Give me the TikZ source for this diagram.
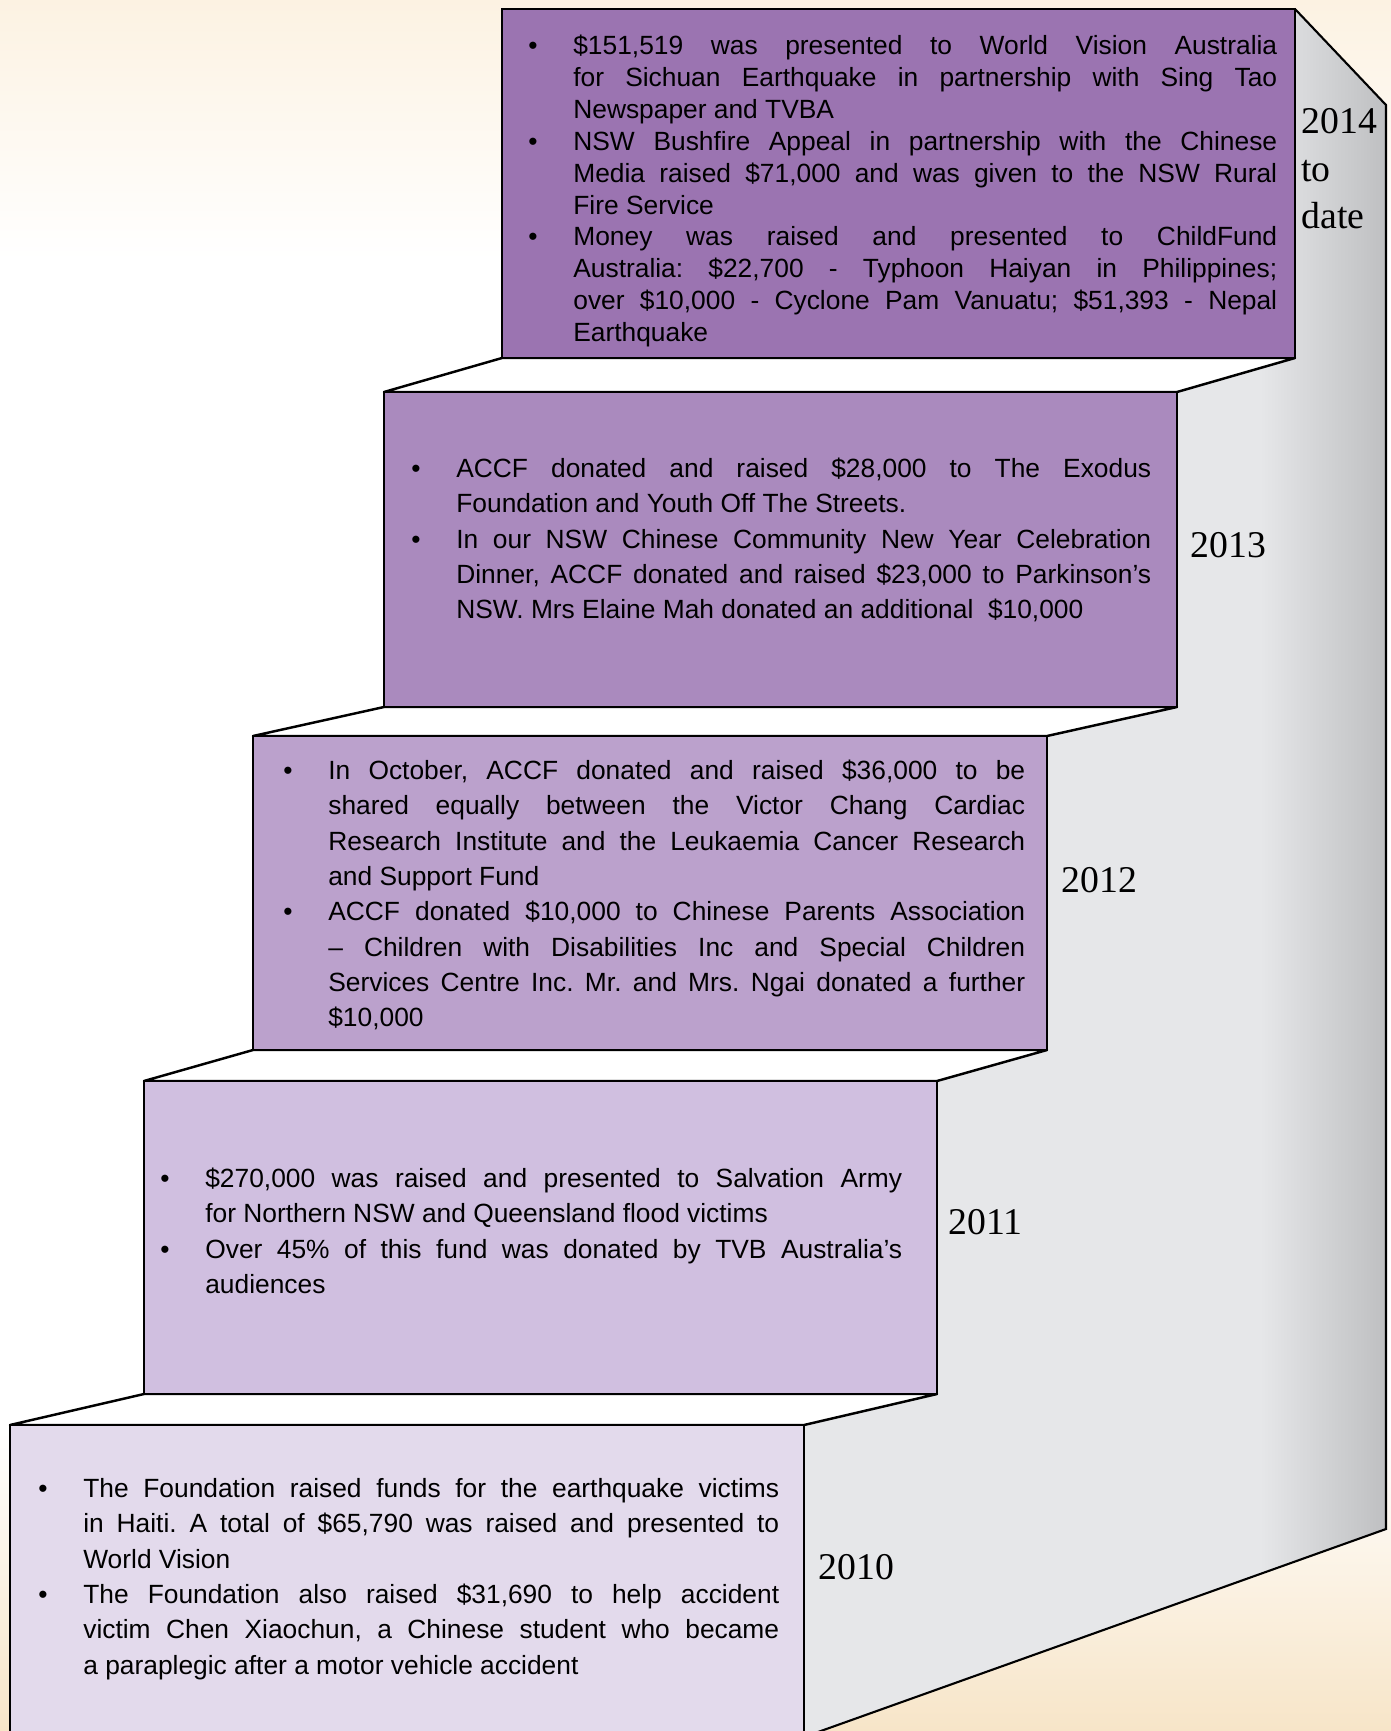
\documentclass[tikz,border=0pt]{standalone}
\usepackage{fontspec}
\setmainfont{Liberation Sans}
\newfontfamily\yearfont{Liberation Serif}

\definecolor{boxA}{RGB}{155,116,177}
\definecolor{boxB}{RGB}{170,138,190}
\definecolor{boxC}{RGB}{187,161,204}
\definecolor{boxD}{RGB}{208,191,224}
\definecolor{boxE}{RGB}{227,218,236}
\definecolor{sidelight}{RGB}{230,231,233}
\definecolor{sidedark}{RGB}{190,191,193}
\definecolor{bgtop}{RGB}{252,242,226}
\definecolor{bgbot}{RGB}{247,229,200}

\newcommand{\bitem}{\par\hangindent=0.9cm\hangafter=1\noindent
  \frenchspacing\hyphenpenalty=10000\makebox[0.9cm][l]{\textbullet}}
\newcommand{\stepbox}[2]{\parbox{#1}{#2}}

\begin{document}
\begin{tikzpicture}[x=0.02cm, y=-0.02cm,
    box/.style={draw=black, line width=1.4pt},
    tread/.style={fill=white, draw=black, line width=1.4pt, line join=round},
    info/.style={anchor=west, inner sep=0pt, font=\fontsize{15}{20.1}\selectfont},
    year/.style={anchor=west, inner sep=0pt, align=left,
      font=\yearfont\fontsize{21.5}{27}\selectfont}]
  \useasboundingbox (0,0) rectangle (1391,1731);
  \clip (0,0) rectangle (1391,1731);
  % background
  \fill[white] (0,0) rectangle (1391,1731);
  \shade[top color=bgtop, bottom color=white] (0,0) rectangle (1391,260);
  \shade[top color=white, bottom color=bgbot] (0,1430) rectangle (1391,1731);
  % side of the stairs
  \begin{scope}
    \clip (1295,9) -- (1386,105) -- (1386,1529) -- (804,1737) -- (804,1425)
      -- (937,1394) -- (937,1081) -- (1047,1050) -- (1047,736)
      -- (1177,707) -- (1177,392) -- (1295,358) -- cycle;
    \fill[sidelight] (800,0) rectangle (1391,1731);
    \shade[left color=sidelight, right color=sidedark] (1260,0) rectangle (1387,1731);
  \end{scope}
  \draw[line width=1.2pt] (1295,9) -- (1386,105) -- (1386,1529) -- (804,1737);
  % treads
  \filldraw[tread] (502,358) -- (1295,358) -- (1177,392) -- (384,392) -- cycle;
  \filldraw[tread] (384,707) -- (1177,707) -- (1047,736) -- (253,736) -- cycle;
  \filldraw[tread] (253,1050) -- (1047,1050) -- (937,1081) -- (144,1081) -- cycle;
  \filldraw[tread] (144,1394) -- (937,1394) -- (804,1425) -- (10,1425) -- cycle;
  % boxes
  \filldraw[box, fill=boxA] (502,9) rectangle (1295,358);
  \filldraw[box, fill=boxB] (384,392) rectangle (1177,707);
  \filldraw[box, fill=boxC] (253,736) rectangle (1047,1050);
  \filldraw[box, fill=boxD] (144,1081) rectangle (937,1394);
  \filldraw[box, fill=boxE] (10,1425) rectangle (804,1745);

  \node[info, font=\fontsize{15}{18.2}\selectfont] (t2014) at (528,191) {\stepbox{14.98cm}{%
    \bitem \$151,519 was presented to World Vision Australia\linebreak for Sichuan Earthquake in partnership with Sing Tao\linebreak Newspaper and TVBA
    \bitem NSW Bushfire Appeal in partnership with the Chinese\linebreak Media raised \$71,000 and was given to the NSW Rural\linebreak Fire Service
    \bitem Money was raised and presented to ChildFund\linebreak Australia: \$22,700 - Typhoon Haiyan in Philippines;\linebreak over \$10,000 - Cyclone Pam Vanuatu; \$51,393 - Nepal\linebreak Earthquake}};
  \node[info] (t2013) at (411,540) {\stepbox{14.8cm}{%
    \bitem ACCF donated and raised \$28,000 to The Exodus\linebreak Foundation and Youth Off The Streets.
    \bitem In our NSW Chinese Community New Year Celebration\linebreak Dinner, ACCF donated and raised \$23,000 to Parkinson’s\linebreak NSW. Mrs Elaine Mah donated an additional \ \$10,000}};
  \node[info] (t2012) at (283,895) {\stepbox{14.84cm}{%
    \bitem In October, ACCF donated and raised \$36,000 to be\linebreak shared equally between the Victor Chang Cardiac\linebreak Research Institute and the Leukaemia Cancer Research\linebreak and Support Fund
    \bitem ACCF donated \$10,000 to Chinese Parents Association\linebreak – Children with Disabilities Inc and Special Children\linebreak Services Centre Inc. Mr. and Mrs. Ngai donated a further\linebreak \$10,000}};
  \node[info] (t2011) at (160,1231) {\stepbox{14.84cm}{%
    \bitem \$270,000 was raised and presented to Salvation Army\linebreak for Northern NSW and Queensland flood victims
    \bitem Over 45\% of this fund was donated by TVB Australia’s\linebreak audiences}};
  \node[info] (t2010) at (38,1579) {\stepbox{14.82cm}{%
    \bitem The Foundation raised funds for the earthquake victims\linebreak in Haiti. A total of \$65,790 was raised and presented to\linebreak World Vision
    \bitem The Foundation also raised \$31,690 to help accident\linebreak victim Chen Xiaochun, a Chinese student who became\linebreak a paraplegic after a motor vehicle accident}};

  % years
  \node[year] (y2014) at (1301,169) {2014\\to\\date};
  \node[year] (y2013) at (1190,545) {2013};
  \node[year] (y2012) at (1061,880) {2012};
  \node[year] (y2011) at (948,1222) {2011};
  \node[year] (y2010) at (818,1567) {2010};
\end{tikzpicture}
\end{document}
